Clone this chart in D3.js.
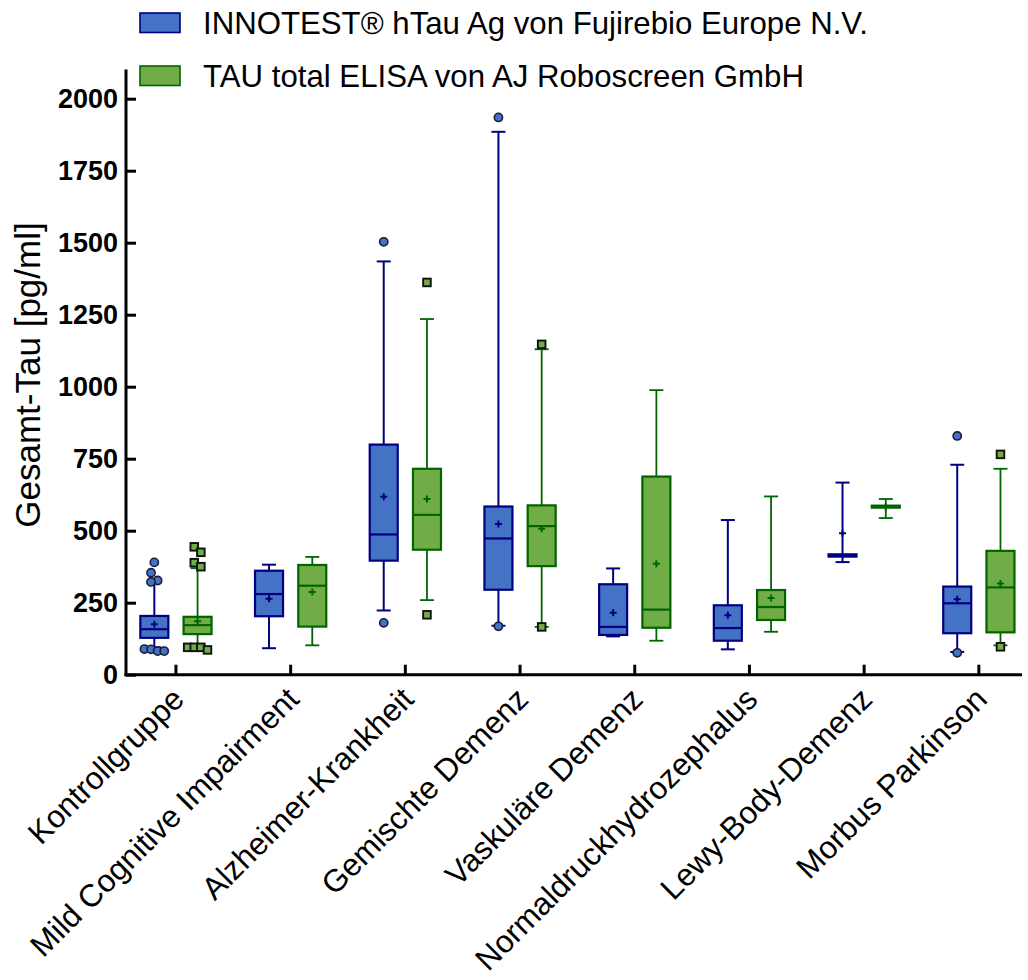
<!DOCTYPE html>
<html>
<head>
<meta charset="utf-8">
<script src="https://cdn.jsdelivr.net/npm/d3@7"></script>
<style>
  html, body { margin: 0; padding: 0; background: #fff; }
  svg { display: block; font-family: "Liberation Sans", Arial, sans-serif; }
</style>
</head>
<body>
<svg id="chart" width="1028" height="980"></svg>
<script>
// ---------- data ----------
const categories = ["Kontrollgruppe", "Mild Cognitive Impairment", "Alzheimer-Krankheit",
  "Gemischte Demenz", "Vaskuläre Demenz", "Normaldruckhydrozephalus", "Lewy-Body-Demenz", "Morbus Parkinson"];
const seriesNames = ["INNOTEST® hTau Ag von Fujirebio Europe N.V.", "TAU total ELISA von AJ Roboscreen GmbH"];
const yTicks = [0, 250, 500, 750, 1000, 1250, 1500, 1750, 2000];

// INNOTEST (blue)
const innoMin    = [95, 92, 223, 170, 133, 88, 391, 79];
const innoQ1     = [128, 203, 396, 295, 138, 118, 410, 144];
const innoMedian = [158, 280, 487, 473, 166, 162, 414, 248];
const innoQ3     = [204, 361, 799, 584, 314, 241, 418, 306];
const innoMax    = [318, 382, 1435, 1885, 369, 537, 667, 729];
const innoMean   = [175, 264, 618, 523, 215, 206, 491, 262];
const innoOutliers = [[390, 354, 327, 322, 89, 88, 82, 82], [], [1503, 180], [1935, 168], [], [], [], [829, 76]];

// Roboscreen (green)
const roboMin    = [100, 102, 259, 166, 118, 149, 544, 102];
const roboQ1     = [141, 167, 434, 377, 163, 190, 580, 147];
const roboMedian = [172, 309, 555, 516, 226, 235, 583, 303];
const roboQ3     = [201, 381, 715, 588, 688, 294, 587, 430];
const roboMax    = [370, 409, 1235, 1130, 988, 619, 610, 715];
const roboMean   = [186, 287, 610, 507, 385, 266, 583, 317];
const roboOutliers = [[444, 425, 389, 375, 95, 95, 95, 86], [], [1362, 208], [1147, 166], [], [], [], [765, 97]];

// ---------- build table ----------
const styles = [
  { fill: "#4472C4", stroke: "#000080", marker: "circle", mstroke: "#1b1b3a" },
  { fill: "#70AD47", stroke: "#006400", marker: "square", mstroke: "#111111" }
];
const raw = [
  { min: innoMin, q1: innoQ1, med: innoMedian, q3: innoQ3, max: innoMax, mean: innoMean, out: innoOutliers },
  { min: roboMin, q1: roboQ1, med: roboMedian, q3: roboQ3, max: roboMax, mean: roboMean, out: roboOutliers }
];
const boxes = [];
categories.forEach((c, i) => {
  seriesNames.forEach((s, j) => {
    const r = raw[j];
    boxes.push({ cat: c, series: s, si: j, min: r.min[i], q1: r.q1[i], med: r.med[i], q3: r.q3[i],
      max: r.max[i], mean: r.mean[i], out: r.out[i] });
  });
});

// ---------- scales ----------
const svg = d3.select("#chart");
const y = d3.scaleLinear().domain([0, 2100]).range([674.7, 69.9]);
const x = d3.scaleBand().domain(categories).range([118.6, 1036.2]).paddingInner(0).paddingOuter(0);
const xs = d3.scaleBand().domain(seriesNames).range([-x.bandwidth() * 0.377, x.bandwidth() * 0.377]);
const boxW = 28, capW = 14;
const axisLeft = 126, axisRight = 1022;

// ---------- boxes ----------
const g = svg.append("g");
boxes.forEach(b => {
  const st = styles[b.si];
  const cx = x(b.cat) + x.bandwidth() / 2 + xs(b.series) + xs.bandwidth() / 2;
  const gb = g.append("g");
  const sw = b.si === 0 ? 2 : 1.8;
  // whiskers
  gb.append("line").attr("x1", cx).attr("x2", cx).attr("y1", y(b.q3)).attr("y2", y(b.max))
    .attr("stroke", st.stroke).attr("stroke-width", sw);
  gb.append("line").attr("x1", cx).attr("x2", cx).attr("y1", y(b.q1)).attr("y2", y(b.min))
    .attr("stroke", st.stroke).attr("stroke-width", sw);
  [b.max, b.min].forEach(v => {
    gb.append("line").attr("x1", cx - capW / 2).attr("x2", cx + capW / 2).attr("y1", y(v)).attr("y2", y(v))
      .attr("stroke", st.stroke).attr("stroke-width", sw);
  });
  // box
  gb.append("rect").attr("x", cx - boxW / 2).attr("width", boxW)
    .attr("y", y(b.q3)).attr("height", Math.max(0.5, y(b.q1) - y(b.q3)))
    .attr("fill", st.fill).attr("stroke", st.stroke).attr("stroke-width", 2.2);
  gb.append("line").attr("x1", cx - boxW / 2).attr("x2", cx + boxW / 2).attr("y1", y(b.med)).attr("y2", y(b.med))
    .attr("stroke", st.stroke).attr("stroke-width", 2.2);
  // mean +
  const my = y(b.mean);
  gb.append("path").attr("d", `M${cx - 3.5},${my}H${cx + 3.5}M${cx},${my - 3.5}V${my + 3.5}`)
    .attr("stroke", st.stroke).attr("stroke-width", 2);

  // outliers, with simple horizontal dodge for overlapping markers
  const pts = b.out.map(v => ({ v, py: y(v) })).sort((a, c) => a.py - c.py);
  const clusters = [];
  pts.forEach(p => {
    const last = clusters[clusters.length - 1];
    if (last && p.py - last[last.length - 1].py < 9) last.push(p); else clusters.push([p]);
  });
  clusters.forEach(cl => {
    const span = cl[cl.length - 1].py - cl[0].py;
    cl.forEach((p, k) => {
      if (cl.length === 1) p.dx = 0;
      else if (span < 8.7) p.dx = (k - (cl.length - 1) / 2) * 6.6;
      else p.dx = (k % 2 === 0 ? -3.3 : 3.3);
    });
  });
  pts.forEach(p => {
    if (st.marker === "circle") {
      gb.append("circle").attr("cx", cx + p.dx).attr("cy", p.py).attr("r", 4.1)
        .attr("fill", st.fill).attr("stroke", st.mstroke).attr("stroke-width", 1.6);
    } else {
      gb.append("rect").attr("x", cx + p.dx - 3.8).attr("y", p.py - 3.8).attr("width", 7.6).attr("height", 7.6)
        .attr("fill", st.fill).attr("stroke", st.mstroke).attr("stroke-width", 1.9);
    }
  });
});

// ---------- axes ----------
const yAxis = d3.axisLeft(y).tickValues(yTicks).tickSize(-10).tickPadding(8).tickFormat(d3.format("d"));
const ya = svg.append("g").attr("transform", `translate(${axisLeft},0)`).call(yAxis);
ya.select(".domain").remove();
ya.selectAll(".tick line").attr("stroke", "#000").attr("stroke-width", 3);
ya.selectAll(".tick text").attr("font-size", 27).attr("font-weight", "bold").attr("fill", "#000")
  .attr("font-family", "'Liberation Sans', Arial, sans-serif");
svg.append("line").attr("x1", axisLeft).attr("x2", axisLeft).attr("y1", y.range()[1] - 0.5).attr("y2", y(0) + 1.5)
  .attr("stroke", "#000").attr("stroke-width", 3);

const xAxis = d3.axisBottom(x).tickSize(-10).tickFormat("");
const xa = svg.append("g").attr("transform", `translate(0,${y(0)})`).call(xAxis);
xa.select(".domain").remove();
xa.selectAll(".tick line").attr("stroke", "#000").attr("stroke-width", 3);
svg.append("line").attr("x1", axisLeft - 1.5).attr("x2", axisRight).attr("y1", y(0)).attr("y2", y(0))
  .attr("stroke", "#000").attr("stroke-width", 3);

// x labels
svg.append("g").selectAll("text").data(categories).join("text")
  .attr("transform", d => `translate(${x(d) + x.bandwidth() / 2 + 10},${701}) rotate(-45)`)
  .attr("text-anchor", "end").attr("font-size", 31.5).attr("fill", "#000").text(d => d);

// y title
svg.append("text").attr("transform", `translate(40,375) rotate(-90)`).attr("text-anchor", "middle")
  .attr("font-size", 35).attr("fill", "#000").text("Gesamt-Tau [pg/ml]");

// ---------- legend ----------
const legY = [13, 66];
const legText = [34, 86.5];
seriesNames.forEach((s, j) => {
  svg.append("rect").attr("x", 140).attr("y", legY[j]).attr("width", 40).attr("height", 19.5)
    .attr("fill", styles[j].fill).attr("stroke", styles[j].stroke).attr("stroke-width", 1.6);
  svg.append("text").attr("x", 203).attr("y", legText[j]).attr("font-size", 31.2).attr("fill", "#000").text(s);
});
</script>
</body>
</html>
